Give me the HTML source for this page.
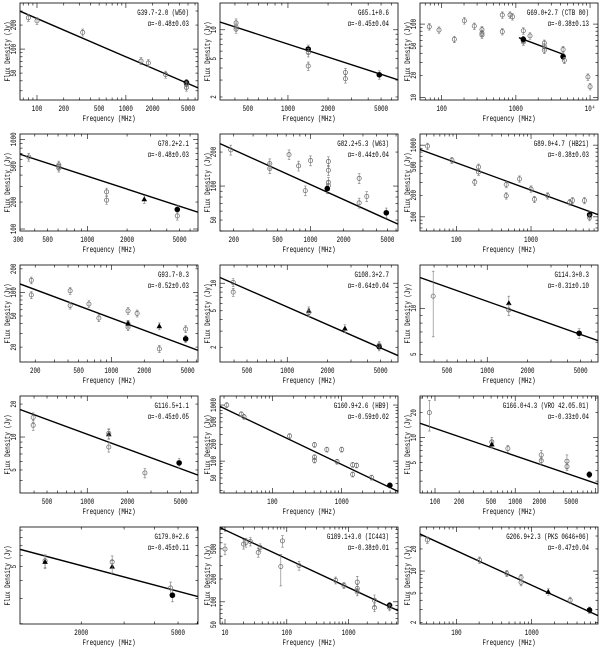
<!DOCTYPE html>
<html><head><meta charset="utf-8"><title>SNR spectra</title>
<style>html,body{margin:0;padding:0;background:#fff}svg{display:block}text{font-family:"Liberation Mono","DejaVu Sans Mono",monospace;fill:#000}</style>
</head><body>
<svg id="chart" width="600" height="647" viewBox="0 0 600 647" xmlns="http://www.w3.org/2000/svg"></svg>
<script>
const panelNames=["G39.7-2.0 (W50)","G65.1+0.6","G69.0+2.7 (CTB 80)","G78.2+2.1","G82.2+5.3 (W63)","G89.0+4.7 (HB21)","G93.7-0.3","G108.3+2.7","G114.3+0.3","G116.5+1.1","G160.9+2.6 (HB9)","G166.0+4.3 (VRO 42.05.01)","G179.0+2.6","G189.1+3.0 (IC443)","G206.9+2.3 (PKS 0646+06)"];
const panelAlphaText=["α=-0.48±0.03","α=-0.45±0.04","α=-0.38±0.13","α=-0.48±0.03","α=-0.44±0.04","α=-0.38±0.03","α=-0.52±0.03","α=-0.64±0.04","α=-0.31±0.10","α=-0.45±0.05","α=-0.59±0.02","α=-0.33±0.04","α=-0.45±0.11","α=-0.38±0.01","α=-0.47±0.04"];
const panelAlpha=[-0.48,-0.45,-0.38,-0.48,-0.44,-0.38,-0.52,-0.64,-0.31,-0.45,-0.59,-0.33,-0.45,-0.38,-0.47];
const panelS1000=[80,7.1,67.6,389,103,236,47,5.5,11.1,10.6,87,6.05,6.95,154,6.4];
const panelXRange=[[64.4,6475],[309,6700],[51,12800],[309,6890],[150,6250],[32.5,7900],[145,6225],[314,6740],[314,6740],[314,6740],[17.5,6500],[65,10770],[1120,6040],[8.3,6300],[32.8,7600]];
const panelYRange=[[23,378],[1.86,19],[9.2,194],[95,1150],[40,289],[63.5,1430],[12.9,224],[1.38,15.8],[4.45,19.2],[3.08,23.7],[27,1450],[2.16,31.7],[1.99,9.46],[51,970],[1.9,39.8]];
const panelXTicks=[[100,200,500,1000,2000,5000],[500,1000,2000,5000],[100,1000,10000],[300,500,1000,2000,5000],[200,500,1000,2000,5000],[100,1000],[200,500,1000,2000,5000],[500,1000,2000,5000],[500,1000,2000,5000],[500,1000,2000,5000],[100,1000],[100,200,500,1000,2000,5000],[2000,5000],[10,100,1000],[100,1000]];
const panelYTicks=[[50,100,200],[2,5,10],[10,20,50,100],[100,200,500,1000],[50,100,200],[100,200,500,1000],[20,50,100,200],[2,5,10],[5,10],[5,10,20],[50,100,200,500,1000],[5,10,20],[5],[50,100,200,500],[2,5,10,20]];
const panelLineRange=[null,null,[1100,4500],null,null,null,null,null,null,null,null,null,null,null,null];

const p1Freq=[80,100,327,1480,1790,2800,4800,4800,4800];
const p1Flux=[247,226,162,71,67,48,38,33,36];
const p1Kind=["o","o","o","o","o","o","f","o","o"];
const p2Freq=[408,408,408,1420,1420,1420,2700,2700,4850];
const p2Flux=[11.8,10.7,10.2,6.3,5.8,4.2,3.6,3.1,3.4];
const p2Kind=["o","o","o","f","o","o","o","o","f"];
const p3Freq=[68,92,148,202,275,349,349,349,656,656,834,900,1260,1260,1260,1260,1550,2420,2420,2420,4330,4330,4500,9360,10000];
const p3Flux=[92,83,62,111,94,84,75,71,133,79,133,126,81,60,57,62,69,55,49,44,45,36,32,19,14];
const p3Kind=["o","o","o","o","o","o","o","o","o","o","o","o","o","o","o","f","o","o","o","o","o","f","o","o","o"];
const p4Freq=[360,608,608,608,1400,1400,2700,4800,4800];
const p4Flux=[636,520,480,500,260,210,215,165,140];
const p4Kind=["o","o","o","o","o","o","t","f","o"];
const p5Freq=[188,426,426,637,779,895,1000,1453,1453,1453,1453,1420,2770,2770,3250,4890];
const p5Flux=[209,158,143,190,151,91,168,165,138,108,101,95,117,71,81,58];
const p5Kind=["o","o","o","o","o","o","o","o","o","o","o","f","o","o","o","f"];
const p6Freq=[41,87,176,198,198,465,465,700,1000,1110,1670,3300,3600,5200,6100,6100];
const p6Flux=[968,615,305,495,422,197,282,338,245,176,197,160,169,169,107,98];
const p6Kind=["o","o","o","o","o","o","o","o","o","o","o","o","o","o","f","o"];
const p7Freq=[184,184,418,418,622,767,1420,1420,1420,1420,1720,2750,2750,4800,4800];
const p7Flux=[143,93,105,68,71,47,58,40,36,40,54,37,19,34,25.5];
const p7Kind=["o","o","o","o","o","o","o","o","o","t","o","t","o","o","f"];
const p8Freq=[394,394,1450,1450,2700,4870,4870];
const p8Flux=[10.2,8.0,5.0,4.8,3.2,2.03,2.1];
const p8Kind=["o","o","t","o","t","f","o"];
const p9Freq=[394,1450,1450,4870];
const p9Flux=[12.0,10.8,9.75,6.86];
const p9Kind=["o","t","o","f"];
const p10Freq=[394,394,1450,1450,1450,2700,4870];
const p10Flux=[15.1,12.8,10.6,10.8,8.1,4.7,5.8];
const p10Kind=["o","o","t","o","o","o","f"];
const p11Freq=[21.9,35.5,38.9,177,405,405,405,610,857,1000,1440,1440,1640,2700,4960];
const p11Flux=[1000,690,618,281,196,118,103,161,98,161,86,58,84,51,37];
const p11Kind=["o","o","o","o","o","o","o","o","o","o","o","o","o","o","f"];
const p12Freq=[85,511,511,810,2110,2110,4420,4420,8400];
const p12Flux=[20,8.9,8.3,7.4,6.2,5.3,5.2,4.5,3.6];
const p12Kind=["o","o","t","o","o","o","o","o","f"];
const p13Freq=[1420,1420,2680,2680,4660,4740];
const p13Flux=[5.5,5.4,5.0,5.4,3.55,3.16];
const p13Kind=["o","t","t","o","o","f"];
const p14Freq=[10,20,21.8,25.7,34.5,37,80,85,158,617,840,1380,1380,1380,2620,2620,4600,4600];
const p14Flux=[497,577,606,625,448,521,292,636,301,192,165,182,150,135,105,84,90,84];
const p14Kind=["o","o","o","o","o","o","o","o","o","o","o","o","o","o","o","o","f","o"];
const p15Freq=[41,203,467,722,722,1660,3240,5860];
const p15Flux=[26.5,14.1,9.3,8.2,7.0,5.2,4.0,2.94];
const p15Kind=["o","o","o","o","o","t","o","f"];
const p9Err=[5.5,1.2,0.8,0.5];
const p14Err=[80,80,80,80,60,60,130,110,40,20,15,35,18,15,18,10,8,8];
const p12Err=[8,1.2,0.8,0.7,0.8,0.5,1,0.5,0.3];

const allFreq=[p1Freq,p2Freq,p3Freq,p4Freq,p5Freq,p6Freq,p7Freq,p8Freq,p9Freq,p10Freq,p11Freq,p12Freq,p13Freq,p14Freq,p15Freq];
const allFlux=[p1Flux,p2Flux,p3Flux,p4Flux,p5Flux,p6Flux,p7Flux,p8Flux,p9Flux,p10Flux,p11Flux,p12Flux,p13Flux,p14Flux,p15Flux];
const allKind=[p1Kind,p2Kind,p3Kind,p4Kind,p5Kind,p6Kind,p7Kind,p8Kind,p9Kind,p10Kind,p11Kind,p12Kind,p13Kind,p14Kind,p15Kind];
const allErr={8:p9Err,11:p12Err,13:p14Err};

const NS="http://www.w3.org/2000/svg";
const svg=document.getElementById('chart');
function mk(tag,attrs,parent){const e=document.createElementNS(NS,tag);for(const k in attrs)e.setAttribute(k,attrs[k]);parent.appendChild(e);return e;}
function fmtX(v){return v===10000?"10⁴":String(v);}

for(let i=0;i<15;i++){
  const c=i%3,r=Math.floor(i/3);
  const bx=200*c+20,by=3+131*r,bw=178,bh=97;
  const g=mk('g',{},svg);
  
  
  const [x0,x1]=panelXRange[i],[y0,y1]=panelYRange[i];
  const X=v=>bx+bw*(Math.log10(v)-Math.log10(x0))/(Math.log10(x1)-Math.log10(x0));
  const Y=v=>by+bh-bh*(Math.log10(v)-Math.log10(y0))/(Math.log10(y1)-Math.log10(y0));
  const clipId='clip'+i;
  const cp=mk('clipPath',{id:clipId},g);
  mk('rect',{x:bx,y:by,width:bw,height:bh},cp);
  // minor/major ticks
  const tk=mk('g',{stroke:'#000','stroke-width':0.6},g);
  
  
  for(let d=Math.floor(Math.log10(x0));d<=Math.ceil(Math.log10(x1));d++){
    for(let m=1;m<10;m++){const v=m*Math.pow(10,d);if(v<x0||v>x1)continue;const L=m===1?5:2.5;const px=X(v);
      mk('line',{x1:px,y1:by+bh,x2:px,y2:by+bh-L},tk);mk('line',{x1:px,y1:by,x2:px,y2:by+L},tk);}
  }
  for(let d=Math.floor(Math.log10(y0));d<=Math.ceil(Math.log10(y1));d++){
    for(let m=1;m<10;m++){const v=m*Math.pow(10,d);if(v<y0||v>y1)continue;const L=m===1?5:2.5;const py=Y(v);
      mk('line',{x1:bx,y1:py,x2:bx+L,y2:py},tk);mk('line',{x1:bx+bw,y1:py,x2:bx+bw-L,y2:py},tk);}
  }
  const box=mk('rect',{x:bx,y:by,width:bw,height:bh,fill:'none',stroke:'#000','stroke-width':0.8},g);
  
  
  panelXTicks[i].forEach(v=>{const s=fmtX(v);const t=mk('text',{x:X(v),y:by+bh+11,'font-size':8,'text-anchor':'middle',textLength:s.length*3.5,lengthAdjust:'spacingAndGlyphs'},g);t.textContent=s;
    
    });
  panelYTicks[i].forEach(v=>{const s=String(v);const py=Y(v);const t=mk('text',{x:0,y:0,'font-size':8,'text-anchor':'middle',transform:`translate(${bx-4},${py}) rotate(-90)`,textLength:s.length*3.5,lengthAdjust:'spacingAndGlyphs'},g);t.textContent=s;
    
    });
  const yt=mk('text',{x:0,y:0,'font-size':8,'text-anchor':'middle',transform:`translate(${bx-10},${by+bh/2}) rotate(-90)`,textLength:60,lengthAdjust:'spacingAndGlyphs'},g);yt.textContent='Flux Density (Jy)';
  
  
  const xt=mk('text',{x:bx+bw/2,y:by+bh+21,'font-size':8,'text-anchor':'middle',textLength:53,lengthAdjust:'spacingAndGlyphs'},g);xt.textContent='Frequency (MHz)';
  
  
  const nm=panelNames[i];
  const n1=mk('text',{x:bx+bw-9,y:by+12,'font-size':8,'text-anchor':'end',textLength:nm.length*3.45,lengthAdjust:'spacingAndGlyphs'},g);n1.textContent=nm;
  
  
  const at=panelAlphaText[i];
  const n2=mk('text',{x:bx+bw-9,y:by+23,'font-size':8,'text-anchor':'end',textLength:at.length*3.45,lengthAdjust:'spacingAndGlyphs'},g);n2.textContent=at;
  
  
  const pg=mk('g',{'clip-path':`url(#${clipId})`},g);
  // fit line
  const lr=panelLineRange[i]||[x0,x1];
  const S=v=>panelS1000[i]*Math.pow(v/1000,panelAlpha[i]);
  const fl=mk('line',{x1:X(lr[0]),y1:Y(S(lr[0])),x2:X(lr[1]),y2:Y(S(lr[1])),stroke:'#000','stroke-width':1.4},pg);
  
  
  const F=allFreq[i],V=allFlux[i],K=allKind[i],E=allErr[i];
  for(let j=0;j<F.length;j++){
    const px=X(F[j]),py=Y(V[j]);const err=E?E[j]:V[j]*0.1;
    const ya=Y(V[j]+err),yb=Y(Math.max(V[j]-err,y0*0.5));
    const eb=mk('path',{d:`M${px},${ya}V${yb}M${px-1.3},${ya}H${px+1.3}M${px-1.3},${yb}H${px+1.3}`,stroke:'#777','stroke-width':0.6,fill:'none'},pg);
    
    
    let m;
    if(K[j]==='f'){m=mk('circle',{cx:px,cy:py,r:2.8,fill:'#000'},pg);}
    else if(K[j]==='t'){m=mk('path',{d:`M${px},${py-3}L${px+2.8},${py+2}L${px-2.8},${py+2}Z`,fill:'#000'},pg);}
    else{m=mk('circle',{cx:px,cy:py,r:2.1,fill:'none',stroke:'#666','stroke-width':0.7},pg);}
    
    
  }
}
</script>
</body></html>
